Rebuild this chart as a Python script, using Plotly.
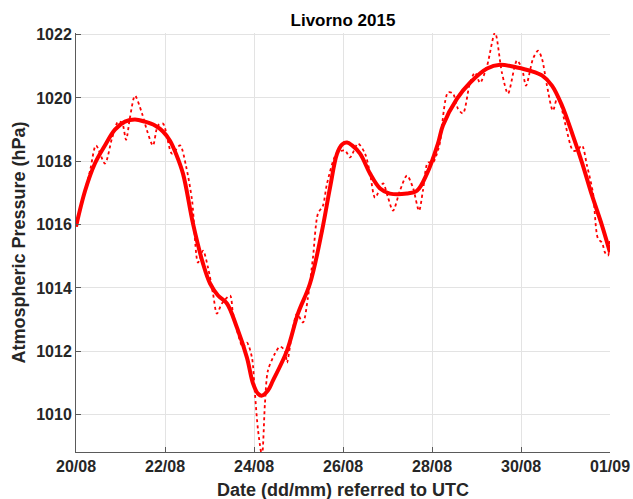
import pandas as pd
import plotly.graph_objects as go

# Raw (dotted) series: hours since 20/08/2015 00:00 UTC, pressure in hPa
raw_hours = [0, 7.6, 10.8, 15.6, 19.4, 22.7, 24.8, 27.0, 29.1, 31.8, 35.6, 38.3, 41.5, 44.2,
             46.9, 51.8, 56.1, 59.3, 62.6, 65.8, 68.5, 71.2, 73.9, 76.0, 78.7, 83.1, 84.7,
             90.1, 92.2, 94.9, 96.5, 98.2, 100.3, 101.9, 103.5, 107.3, 110.0, 112.7, 113.8,
             116.5, 119.2, 122.4, 125.1, 127.8, 130.5, 133.2, 135.4, 140.8, 145.1, 147.8,
             152.1, 155.9, 158.6, 161.3, 165.6, 168.3, 171.0, 174.7, 178.5, 181.7, 185.0,
             187.1, 189.8, 192.5, 195.2, 196.3, 200.6, 203.3, 206.0, 208.7, 212.5, 215.2,
             217.9, 221.7, 226.0, 229.7, 233.0, 237.8, 240.5, 242.7, 246.5, 249.2, 251.3,
             254.0, 257.2, 259.9, 263.7, 268.0, 270.2, 272.9, 275.6, 278.8, 281.5, 283.7,
             285.3, 286.9, 288.0]
raw_pressure = [1015.94, 1017.71, 1018.50, 1017.93, 1018.72, 1019.25, 1019.22, 1018.68, 1019.38,
                1020.07, 1019.51, 1018.97, 1018.50, 1019.13, 1019.19, 1018.24, 1018.50, 1017.86,
                1016.76, 1014.80, 1015.18, 1014.64, 1013.82, 1013.19, 1013.51, 1013.76, 1013.19,
                1012.12, 1012.27, 1011.80, 1010.66, 1009.50, 1008.71, 1010.35, 1011.39, 1011.93,
                1012.15, 1012.02, 1011.64, 1012.56, 1013.19, 1012.91, 1013.70, 1014.96, 1016.35,
                1016.60, 1017.30, 1018.27, 1018.34, 1018.12, 1018.56, 1018.24, 1017.61, 1016.85,
                1017.30, 1016.85, 1016.44, 1017.07, 1017.55, 1017.17, 1016.44, 1017.07, 1017.96,
                1017.96, 1018.34, 1018.59, 1020.17, 1020.14, 1019.66, 1019.51, 1020.48, 1020.80,
                1020.48, 1021.02, 1022.06, 1020.80, 1020.14, 1021.18, 1020.93, 1020.39, 1021.24,
                1021.49, 1021.24, 1020.39, 1019.60, 1020.07, 1019.22, 1018.34, 1018.34, 1018.50,
                1017.86, 1017.01, 1015.56, 1015.43, 1015.12, 1015.02, 1015.50]

# Smoothed (solid) series
smooth_hours = [0, 4.9, 10.2, 15.6, 21.0, 26.4, 31.8, 37.2, 42.6, 46.9, 50.7, 53.9, 57.7, 63.1,
                68.5, 72.3, 76.6, 81.4, 86.8, 92.2, 95.5, 98.2, 100.3, 103.5, 106.2, 113.8,
                119.7, 126.2, 132.7, 137.0, 140.8, 143.5, 146.2, 148.9, 153.2, 158.6, 164.0,
                169.3, 178.5, 183.9, 189.3, 195.2, 197.9, 205.5, 212.5, 221.7, 228.7, 237.8,
                244.8, 251.3, 256.7, 262.1, 268.0, 272.9, 278.3, 283.7, 288.0]
smooth_pressure = [1015.94, 1017.07, 1017.93, 1018.50, 1019.00, 1019.25, 1019.32, 1019.25,
                   1019.13, 1018.94, 1018.65, 1018.24, 1017.61, 1016.03, 1014.77, 1014.14,
                   1013.76, 1013.51, 1012.75, 1011.80, 1010.98, 1010.66, 1010.60, 1010.76,
                   1011.07, 1012.02, 1013.19, 1014.14, 1015.81, 1017.17, 1018.24, 1018.53,
                   1018.59, 1018.50, 1018.24, 1017.61, 1017.14, 1016.98, 1016.98, 1017.07,
                   1017.61, 1018.56, 1019.13, 1019.98, 1020.48, 1020.93, 1021.05, 1020.96,
                   1020.86, 1020.71, 1020.39, 1019.76, 1018.81, 1017.96, 1016.92, 1015.97,
                   1015.12]

y_ticks = [1010, 1012, 1014, 1016, 1018, 1020, 1022]

start = pd.Timestamp("2015-08-20")
raw_t = start + pd.to_timedelta(raw_hours, unit="h")
smooth_t = start + pd.to_timedelta(smooth_hours, unit="h")

FONT = "Liberation Sans, Arial, Helvetica, sans-serif"

fig = go.Figure()
fig.add_trace(go.Scatter(x=raw_t, y=raw_pressure, mode="lines",
                         line=dict(color="#ff0000", width=1.8, dash="dot", shape="spline",
                                   smoothing=0.8),
                         showlegend=False))
fig.add_trace(go.Scatter(x=smooth_t, y=smooth_pressure, mode="lines",
                         line=dict(color="#ff0000", width=4, shape="spline", smoothing=1.0),
                         showlegend=False))

fig.update_layout(
    width=633, height=499,
    margin=dict(l=76, r=23, t=33, b=47, autoexpand=False),
    paper_bgcolor="white", plot_bgcolor="white",
    font=dict(family=FONT, color="#262626"),
    title=dict(text="<b>Livorno 2015</b>", x=343 / 633,
               xanchor="center", y=1 - 20 / 499, yanchor="middle",
               font=dict(size=17, color="#000000", family=FONT)),
)
fig.update_xaxes(
    range=[start, start + pd.Timedelta(days=12)],
    tick0=start, dtick=2 * 86400000, tickformat="%d/%m",
    showgrid=True, gridcolor="#e3e3e3", gridwidth=1,
    showline=True, linecolor="#5a5a5a", linewidth=1,
    ticks="inside", ticklen=5, tickcolor="#5a5a5a",
    tickfont=dict(size=16, family=FONT, weight="bold", color="#262626"),
    automargin=False,
    zeroline=False, mirror=False,
)
fig.update_yaxes(
    range=[1008.82, 1022.05],
    tickvals=y_ticks, ticktext=[str(v) for v in y_ticks],
    showgrid=True, gridcolor="#e3e3e3", gridwidth=1,
    showline=True, linecolor="#5a5a5a", linewidth=1,
    ticks="inside", ticklen=5, tickcolor="#5a5a5a",
    tickfont=dict(size=16, family=FONT, weight="bold", color="#262626"),
    automargin=False,
    zeroline=False, mirror=False,
)
# Axis titles placed as paper-anchored annotations
fig.add_annotation(text="<b>Date (dd/mm) referred to UTC</b>", xref="paper", yref="paper",
                   x=0.5, y=-(490 - 452) / 419, xanchor="center", yanchor="middle",
                   showarrow=False, font=dict(size=18, family=FONT, color="#262626"))
fig.add_annotation(text="<b>Atmospheric Pressure (hPa)</b>", xref="paper", yref="paper",
                   x=-(76 - 18) / 534, y=0.5, xanchor="center", yanchor="middle",
                   textangle=-90, showarrow=False,
                   font=dict(size=18, family=FONT, color="#262626"))

fig.write_html("out.html")
